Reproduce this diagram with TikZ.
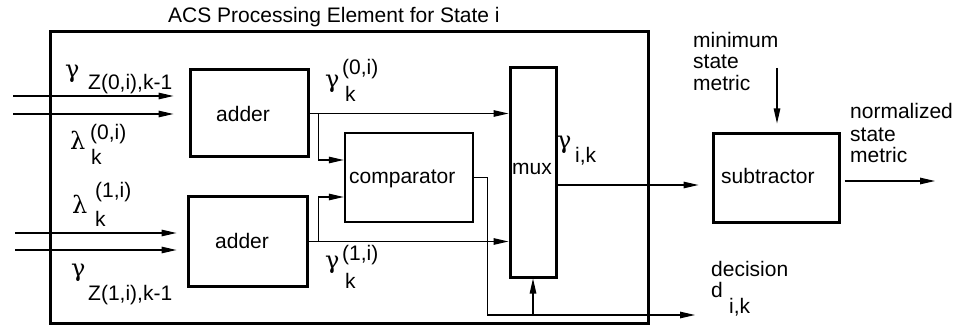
\documentclass[tikz,border=0pt]{standalone}
\usepackage{fontspec}
\setmainfont{Liberation Sans}
\newfontfamily\grk{DejaVu Serif}
\usetikzlibrary{arrows.meta,calc}
\begin{document}
\begin{tikzpicture}[x=1pt,y=-1pt,
  txt/.style={inner sep=0pt, anchor=base west, font=\fontsize{21}{21}\selectfont},
  gk/.style={inner sep=0pt, anchor=base west, font=\grk\fontsize{24}{24}\selectfont},
  blk/.style={draw, line width=3pt, inner sep=0pt, rectangle},
  arr/.style={line width=1.2pt, -{Triangle[length=15pt,width=6.5pt]}},
  wire/.style={line width=1.2pt}]
\useasboundingbox (0,0) rectangle (959,326);
% blocks
\node[blk, minimum width=598pt, minimum height=291pt] (acs) at (349,177.5) {};
\node[blk, minimum width=118pt, minimum height=87pt] (a1) at (249,113.5) {};
\node[blk, minimum width=119pt, minimum height=89pt] (a2) at (247.5,241.5) {};
\node[blk, line width=2.5pt, minimum width=128pt, minimum height=89pt] (c) at (409,177.5) {};
\node[blk, minimum width=46pt, minimum height=209pt] (m) at (533,172.5) {};
\node[blk, minimum width=126pt, minimum height=88pt] (s) at (776,178) {};
% block texts
\node[txt] (title) at (168,23) {ACS Processing Element for State i};
\node[txt] (a1t) at (216,122) {adder};
\node[txt] (a2t) at (215,248) {adder};
\node[txt] (ct) at (349,184) {comparator};
\node[txt] (mt) at (512,175) {mux};
\node[txt] (st) at (721,184) {subtractor};
% signal labels
\node[gk] (g1) at (65,78) {γ};
\node[txt] (g1s) at (88,90) {Z(0,i),k-1};
\node[gk] (l1) at (70,150) {λ};
\node[txt] (l1p) at (90,140) {(0,i)};
\node[txt] (l1s) at (91,165) {k};
\node[gk] (l2) at (72,213) {λ};
\node[txt] (l2p) at (95,197) {(1,i)};
\node[txt] (l2s) at (95,226) {k};
\node[gk] (g2) at (71,276) {γ};
\node[txt] (g2s) at (88,300) {Z(1,i),k-1};
\node[gk] (g3) at (325,88) {γ};
\node[txt] (g3p) at (342,75) {(0,i)};
\node[txt] (g3s) at (345,102) {k};
\node[gk] (g4) at (325,268) {γ};
\node[txt] (g4p) at (342,260) {(1,i)};
\node[txt] (g4s) at (345,288) {k};
\node[gk] (g5) at (557,149) {γ};
\node[txt] (g5s) at (575,163) {i,k};
\node[txt] (mn1) at (693,48) {minimum};
\node[txt] (mn2) at (693,69) {state};
\node[txt] (mn3) at (693,91) {metric};
\node[txt] (nr1) at (850,119) {normalized};
\node[txt] (nr2) at (850,142) {state};
\node[txt] (nr3) at (850,163) {metric};
\node[txt] (de1) at (711,276) {decision};
\node[txt] (de2) at (711,297) {d};
\node[txt] (de3) at (729,313) {i,k};
% free ends
\coordinate (in1) at (13,96);
\coordinate (in2) at (13,114);
\coordinate (in3) at (15,233);
\coordinate (in4) at (15,250);
\coordinate (dec) at (695,315);
\coordinate (minc) at (777,68);
\coordinate (outc) at (935,181);
% connectors
\draw[arr, shorten >=15pt] (in1) -- (in1 -| a1.west);
\draw[arr, shorten >=15pt] (in2) -- (in2 -| a1.west);
\draw[arr, shorten >=10pt] (in3) -- (in3 -| a2.west);
\draw[arr, shorten >=10pt] (in4) -- (in4 -| a2.west);
\draw[arr] (a1.east) -- (m.west |- a1.east);
\draw[arr] (a1.east) ++(9,0) |- ([yshift=17.5pt]c.west);
\draw[arr] (a2.east) -- (m.west |- a2.east);
\draw[arr] (a2.east) ++(10,0) |- ([yshift=-19.5pt]c.west);
\draw[arr] (c.east) -- ++(13,0) |- (dec);
\draw[arr] (m.south |- dec) -- (m.south);
\draw[arr, shorten >=13pt] ([yshift=-12.5pt]m.east) -- ([yshift=-12.5pt]m.east -| s.west);
\draw[arr, shorten >=9pt] (minc) -- (minc |- s.north);
\draw[arr, shorten <=4pt] (s.east |- outc) -- (outc);
\end{tikzpicture}
\end{document}
